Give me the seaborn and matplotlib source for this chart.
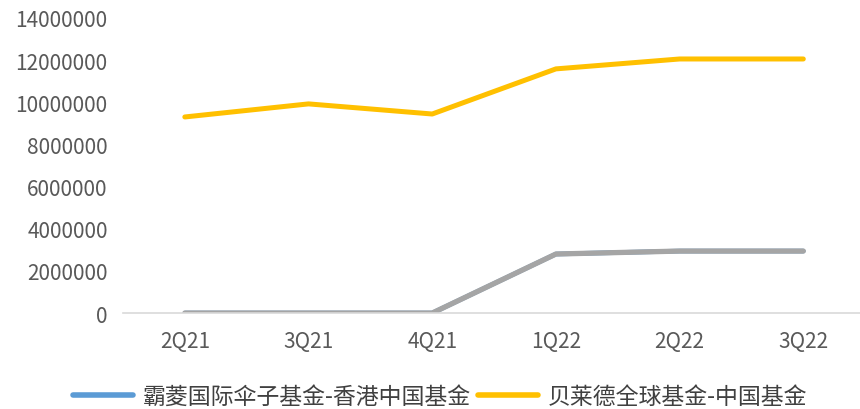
import matplotlib
matplotlib.use("Agg")
import matplotlib.pyplot as plt
import seaborn as sns
import pandas as pd

quarters = ["2Q21", "3Q21", "4Q21", "1Q22", "2Q22", "3Q22"]
barings = [0, 0, 0, 2800000, 2940000, 2940000]
blackrock = [9300000, 9920000, 9440000, 11580000, 12050000, 12050000]
name_barings = "霸菱国际伞子基金-香港中国基金"
name_blackrock = "贝莱德全球基金-中国基金"
yticks = [0, 2000000, 4000000, 6000000, 8000000, 10000000, 12000000, 14000000]

sns.set_theme(style="white")
plt.rcParams['font.family'] = ['Noto Sans CJK SC', 'DejaVu Sans']

df = pd.DataFrame({"q": quarters, "b": barings, "k": blackrock})

fig = plt.figure(figsize=(8.6, 4.1), dpi=100)
ax = fig.add_axes([0.143, 0.234, 0.863, 0.72])

sns.lineplot(data=df, x="q", y="b", ax=ax, color="#5B9BD5", linewidth=3.4,
             sort=False, label=name_barings, solid_capstyle="round")
sns.lineplot(data=df, x="q", y="k", ax=ax, color="#FFC000", linewidth=3.6,
             sort=False, label=name_blackrock, solid_capstyle="round")
sns.lineplot(data=df, x="q", y="b", ax=ax, color="#A5A5A5", linewidth=3.8,
             sort=False, legend=False, solid_capstyle="round")

ax.set_xlim(-0.5, len(quarters) - 0.5)
ax.set_ylim(0, 14000000)
ax.set_yticks(yticks)
ax.set_yticklabels([str(v) for v in yticks])
ax.set_xlabel("")
ax.set_ylabel("")
for s in ["top", "right", "left"]:
    ax.spines[s].set_visible(False)
ax.spines["bottom"].set_color("#D9D9D9")
ax.spines["bottom"].set_linewidth(1.2)
ax.tick_params(axis="both", length=0, colors="#595959", labelsize=15)
ax.tick_params(axis="y", pad=11)
ax.tick_params(axis="x", pad=12)
for t in ax.get_xticklabels() + ax.get_yticklabels():
    t.set_fontweight("light")

handles, labels = ax.get_legend_handles_labels()
ax.legend_.remove()
leg = fig.legend(handles, labels, loc="center", bbox_to_anchor=(0.512, 0.03),
                 ncol=2, frameon=False, fontsize=16.5, handlelength=2.6,
                 columnspacing=0.3, handletextpad=0.45, borderpad=0.1)
for t in leg.get_texts():
    t.set_color("#404040")
for h in leg.legend_handles:
    h.set_linewidth(4)

fig.savefig("out.png", dpi=100)
